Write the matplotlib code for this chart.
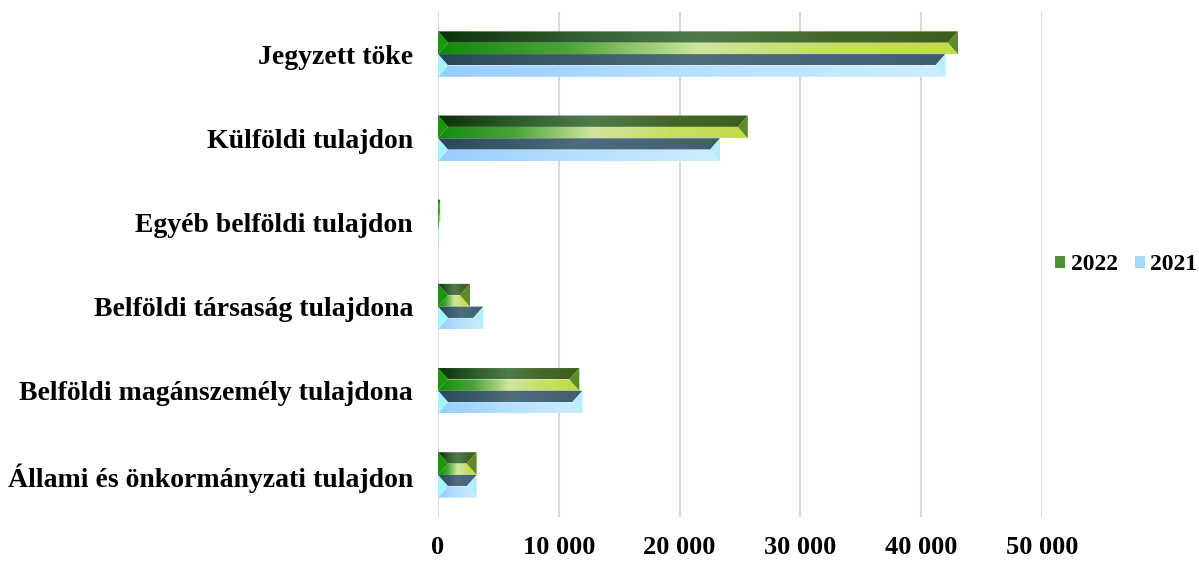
import numpy as np
import matplotlib
matplotlib.use('Agg')
import matplotlib.pyplot as plt
from matplotlib.colors import LinearSegmentedColormap
from matplotlib.patches import Polygon, Patch

# data
categories = ['Jegyzett töke', 'Külföldi tulajdon', 'Egyéb belföldi tulajdon',
              'Belföldi társaság tulajdona', 'Belföldi magánszemély tulajdona',
              'Állami és önkormányzati tulajdon']
vals_2022 = [43050, 25650, 180, 2650, 11700, 3200]
vals_2021 = [42000, 23350, 90, 3750, 11950, 3200]
series_names = ['2022', '2021']
xticks = [0, 10000, 20000, 30000, 40000, 50000]
xtick_labels = ['0', '10 000', '20 000', '30 000', '40 000', '50 000']

# bevel styles: top face, bottom face gradients + end triangles
styles = {
    '2022': dict(top=['#0a3206', '#2f5c2c', '#4f7c4a', '#45672a', '#3d5e1a'],
                 bot=['#118a0a', '#4da43a', '#cfe5a0', '#c6df62', '#c0dc48'],
                 left='#1c9412', right='#5b8b2a', legend='#4f8f35'),
    '2021': dict(top=['#2a4858', '#3a5a6a', '#4d6c7c', '#46667a', '#3e5e70'],
                 bot=['#98cdff', '#a6d6ff', '#b6e0ff', '#c2e6ff', '#cceeff'],
                 left='#a6f2ff', right='#b4eefc', legend='#a8d8f4'),
}

plt.rcParams['font.family'] = ['Liberation Serif', 'DejaVu Serif']
plt.rcParams['font.weight'] = 'bold'

fig = plt.figure(figsize=(11.99, 5.61), dpi=100)
ax = fig.add_axes([0.3653, 0.0784, 0.8690 - 0.3653, 0.9786 - 0.0784])

n = len(categories)
y = np.arange(n)
h = 0.27
bars22 = ax.barh(y - h / 2, vals_2022, height=h, color='none', zorder=2)
bars21 = ax.barh(y + h / 2, vals_2021, height=h, color='none', zorder=2)

ax.set_xlim(0, 50000)
ax.set_ylim(n - 0.5, -0.5)

# bevel depth in data units (about 10 px)
px_per_unit = ax.transData.transform((1, 0))[0] - ax.transData.transform((0, 0))[0]
bevel = 10 / px_per_unit


def draw_bevel_bar(patch, st):
    x0 = patch.get_x()
    w = patch.get_width()
    x1 = x0 + w
    yt = patch.get_y()              # top on screen, y axis is inverted
    yb = yt + patch.get_height()
    ym = (yt + yb) / 2
    d = min(bevel, w / 2)
    grad = np.linspace(0, 1, 256).reshape(1, -1)
    faces = [
        ([(x0, yt), (x1, yt), (x1 - d, ym), (x0 + d, ym)], st['top'], yt, ym),
        ([(x0 + d, ym), (x1 - d, ym), (x1, yb), (x0, yb)], st['bot'], ym, yb),
    ]
    for pts, cols, ya, yc in faces:
        poly = Polygon(pts, closed=True, facecolor='none', edgecolor='none')
        ax.add_patch(poly)
        cmap = LinearSegmentedColormap.from_list('g', cols)
        im = ax.imshow(grad, cmap=cmap, extent=[x0, x1, yc, ya], aspect='auto',
                       interpolation='bilinear', zorder=3)
        im.set_clip_path(poly)
    ax.add_patch(Polygon([(x0, yt), (x0 + d, ym), (x0, yb)], closed=True,
                         facecolor=st['left'], edgecolor='none', zorder=4))
    ax.add_patch(Polygon([(x1, yt), (x1 - d, ym), (x1, yb)], closed=True,
                         facecolor=st['right'], edgecolor='none', zorder=4))


for p in bars22:
    draw_bevel_bar(p, styles['2022'])
for p in bars21:
    draw_bevel_bar(p, styles['2021'])

ax.set_xlim(0, 50000)
ax.set_ylim(n - 0.5, -0.5)

ax.set_xticks(xticks)
ax.set_xticklabels(xtick_labels)
ax.set_yticks(y)
ax.set_yticklabels(categories)
ax.tick_params(axis='x', length=0, pad=14, labelsize=19)
ax.tick_params(axis='y', length=0, pad=18, labelsize=20)
ax.grid(axis='x', color='#d9d9d9', linewidth=1.5, zorder=0)
ax.set_axisbelow(True)
for s in ax.spines.values():
    s.set_visible(False)

handles = [Patch(facecolor=styles[s]['legend'], edgecolor='none') for s in series_names]
fig.legend(handles, series_names, loc='center left', bbox_to_anchor=(0.862, 0.528),
           ncol=2, frameon=False, fontsize=17, handlelength=0.42, handleheight=0.42,
           handletextpad=0.25, columnspacing=0.72)

fig.savefig('out.png', dpi=100)
